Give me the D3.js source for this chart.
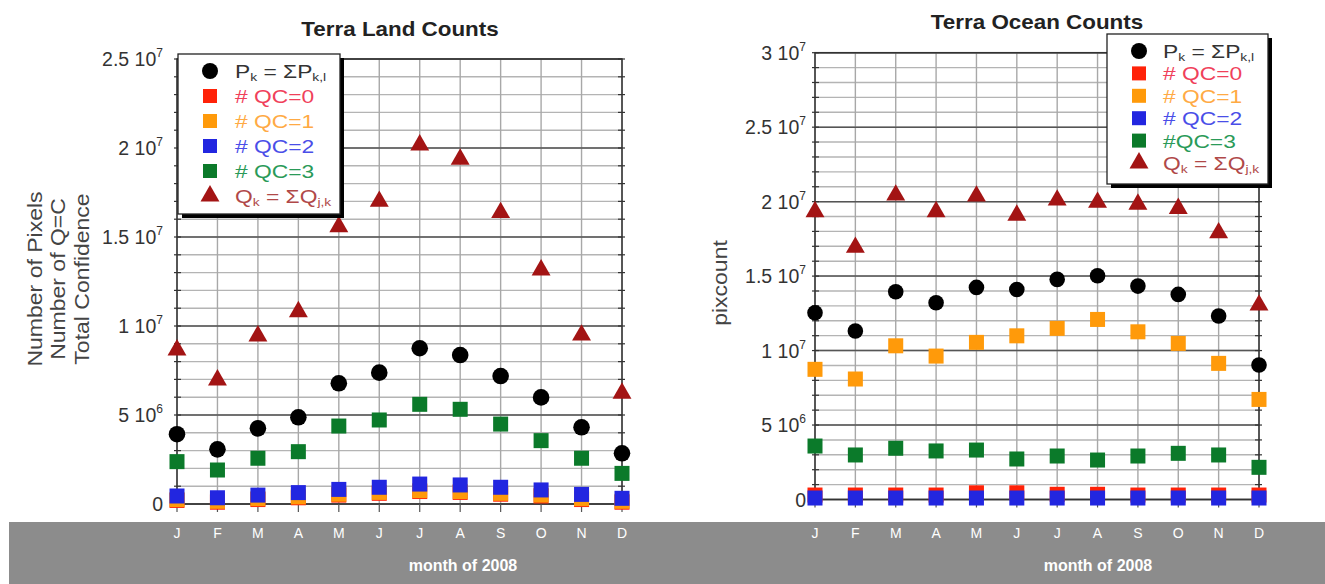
<!DOCTYPE html>
<html><head><meta charset="utf-8">
<script src="https://cdn.jsdelivr.net/npm/d3@7"></script>
<style>
html,body{margin:0;padding:0;background:#fff;}
svg{display:block;font-family:"Liberation Sans",Arial,Helvetica,sans-serif;}
</style></head>
<body><svg id="c" width="1325" height="584"></svg>
<script>
// ---------- data (pixel counts, millions) ----------
const months = [1,2,3,4,5,6,7,8,9,10,11,12];
const monthLetters = ["J","F","M","A","M","J","J","A","S","O","N","D"];

const landP   = [3.92,3.07,4.25,4.87,6.78,7.38,8.75,8.37,7.19,5.99,4.31,2.85];
const landQC0 = [0.20,0.10,0.25,0.35,0.50,0.60,0.70,0.65,0.55,0.45,0.25,0.10];
const landQC1 = [0.25,0.15,0.30,0.40,0.55,0.65,0.75,0.70,0.60,0.50,0.30,0.15];
const landQC2 = [0.45,0.35,0.50,0.64,0.82,0.94,1.12,1.07,0.94,0.79,0.54,0.32];
const landQC3 = [2.38,1.91,2.57,2.94,4.38,4.72,5.60,5.32,4.49,3.56,2.57,1.72];
const landQ   = [8.65,6.97,9.44,10.8,15.58,17.0,20.17,19.37,16.37,13.15,9.49,6.22];

const oceanP   = [12.54,11.31,13.95,13.21,14.24,14.10,14.78,15.02,14.33,13.77,12.32,9.03];
const oceanQC0 = [0.30,0.30,0.30,0.30,0.45,0.45,0.35,0.35,0.30,0.30,0.30,0.30];
const oceanQC1 = [8.74,8.09,10.32,9.63,10.55,10.99,11.49,12.09,11.26,10.48,9.14,6.72];
const oceanQC2 = [0.10,0.10,0.10,0.10,0.10,0.10,0.10,0.10,0.10,0.10,0.10,0.10];
const oceanQC3 = [3.59,2.99,3.44,3.26,3.32,2.72,2.92,2.65,2.92,3.10,2.99,2.16];
const oceanQ   = [19.32,16.93,20.44,19.32,20.37,19.09,20.10,19.95,19.83,19.54,17.90,13.05];

const landTicks  = [0,5e6,1e7,1.5e7,2e7,2.5e7];
const oceanTicks = [0,5e6,1e7,1.5e7,2e7,2.5e7,3e7];
const tickLabels = {0:["0",""],5000000:["5 10","6"],10000000:["1 10","7"],15000000:["1.5 10","7"],
  20000000:["2 10","7"],25000000:["2.5 10","7"],30000000:["3 10","7"]};

const seriesColors = {P:"#000000",QC0:"#ff2208",QC1:"#ff9a0a",QC2:"#2226e0",QC3:"#0b7a2a",Q:"#a31414"};
const textColors   = {P:"#333333",QC0:"#f0405a",QC1:"#ffaa44",QC2:"#4a4ee8",QC3:"#2a9a58",Q:"#b04848"};

const svg = d3.select("#c");

function drawPanel(cfg){
  const g = svg.append("g");
  const x = d3.scaleLinear().domain([1,12]).range([cfg.x0,cfg.x1]);
  const y = d3.scaleLinear().domain([0,cfg.ymax]).range([cfg.y0,cfg.y1]);

  const minor = d3.range(0,cfg.ymax+1,1e6);
  g.selectAll(".mh").data(minor).enter().append("line")
    .attr("x1",cfg.x0).attr("x2",cfg.x1).attr("y1",d=>y(d)).attr("y2",d=>y(d))
    .attr("stroke","#b4b4b4").attr("stroke-width",1.4);
  g.selectAll(".vg").data(months).enter().append("line")
    .attr("x1",d=>x(d)).attr("x2",d=>x(d)).attr("y1",cfg.y1).attr("y2",cfg.y0)
    .attr("stroke","#a8a8a8").attr("stroke-width",1.4);
  g.selectAll(".mj").data(cfg.ticks).enter().append("line")
    .attr("x1",cfg.x0).attr("x2",cfg.x1).attr("y1",d=>y(d)).attr("y2",d=>y(d))
    .attr("stroke","#555").attr("stroke-width",1.5);
  g.append("rect").attr("x",cfg.x0).attr("y",cfg.y1).attr("width",cfg.x1-cfg.x0).attr("height",cfg.y0-cfg.y1)
    .attr("fill","none").attr("stroke","#333").attr("stroke-width",1.5);
  g.selectAll(".tk").data(minor).enter().append("line")
    .attr("x1",cfg.x0-3).attr("x2",cfg.x0+4).attr("y1",d=>y(d)).attr("y2",d=>y(d))
    .attr("stroke","#333").attr("stroke-width",1.2);
  g.selectAll(".tk2").data(minor).enter().append("line")
    .attr("x1",cfg.x1-4).attr("x2",cfg.x1+3).attr("y1",d=>y(d)).attr("y2",d=>y(d))
    .attr("stroke","#333").attr("stroke-width",1.2);
  g.selectAll(".xt").data(months).enter().append("line")
    .attr("x1",d=>x(d)).attr("x2",d=>x(d)).attr("y1",cfg.y0).attr("y2",cfg.y0+8)
    .attr("stroke","#555").attr("stroke-width",1.2);

  const tl = g.selectAll(".tl").data(cfg.ticks).enter().append("text")
    .attr("x",cfg.labelX).attr("y",d=>y(d)+7).attr("text-anchor","end")
    .attr("font-size",19.5).attr("fill","#333");
  tl.append("tspan").text(d=>tickLabels[d][0]);
  tl.append("tspan").attr("font-size",12).attr("dy",-9).text(d=>tickLabels[d][1]);

  g.append("text").attr("transform",`translate(${cfg.titleX},${cfg.titleY}) scale(1.12,1)`)
    .attr("text-anchor","middle")
    .attr("font-size",20).attr("font-weight","bold").attr("fill","#222").text(cfg.title);

  const yl = g.append("text").attr("transform",`translate(${cfg.ylabX},${cfg.ylabY}) rotate(-90) scale(1.15,1)`)
    .attr("text-anchor","middle").attr("font-size",20).attr("fill","#444");
  cfg.ylabel.forEach((s,i)=>yl.append("tspan").attr("x",0).attr("dy",i===0?0:23.5).text(s));

  const sq = 15;
  const sqSeries = [["QC0",cfg.d.QC0],["QC1",cfg.d.QC1],["QC2",cfg.d.QC2],["QC3",cfg.d.QC3]];
  sqSeries.forEach(([k,arr])=>{
    g.selectAll(".s"+k).data(arr).enter().append("rect")
      .attr("x",(d,i)=>x(months[i])-sq/2).attr("y",d=>y(d*1e6)-sq/2)
      .attr("width",sq).attr("height",sq).attr("fill",seriesColors[k]);
  });
  g.selectAll(".cP").data(cfg.d.P).enter().append("circle")
    .attr("cx",(d,i)=>x(months[i])).attr("cy",d=>y(d*1e6)).attr("r",cfg.r).attr("fill","#000");
  const tri = d3.symbol().type(d3.symbolTriangle).size(155);
  g.selectAll(".tQ").data(cfg.d.Q).enter().append("path")
    .attr("d",tri).attr("transform",(d,i)=>`translate(${x(months[i])},${y(d*1e6)})`)
    .attr("fill",seriesColors.Q);

  const L = cfg.legend;
  g.append("rect").attr("x",L.x+4).attr("y",L.y+4).attr("width",L.w).attr("height",L.h).attr("fill","#000");
  g.append("rect").attr("x",L.x).attr("y",L.y).attr("width",L.w).attr("height",L.h)
    .attr("fill","#fff").attr("stroke","#222").attr("stroke-width",1.3);
  const items = [
    {k:"P",sym:"circle",parts:[["P",0],["k",1],[" = ΣP",0],["k,l",1]]},
    {k:"QC0",sym:"square",parts:[["# QC=0",0]]},
    {k:"QC1",sym:"square",parts:[["# QC=1",0]]},
    {k:"QC2",sym:"square",parts:[["# QC=2",0]]},
    {k:"QC3",sym:"square",parts:[[L.qc3,0]]},
    {k:"Q",sym:"tri",parts:[["Q",0],["k",1],[" = ΣQ",0],["j,k",1]]}
  ];
  items.forEach((it,i)=>{
    const cy = L.y + L.first + i*L.step;
    const sx = L.x + L.symX;
    if(it.sym==="circle") g.append("circle").attr("cx",sx).attr("cy",cy).attr("r",8).attr("fill","#000");
    else if(it.sym==="square") g.append("rect").attr("x",sx-7).attr("y",cy-7).attr("width",14).attr("height",14).attr("fill",seriesColors[it.k]);
    else g.append("path").attr("d",tri).attr("transform",`translate(${sx},${cy})`).attr("fill",seriesColors.Q);
    const t = g.append("text").attr("transform",`translate(${L.x+L.textX},${cy+7}) scale(1.2,1)`)
      .attr("font-size",19).attr("fill",textColors[it.k]);
    let sub=false;
    it.parts.forEach(([s,isSub])=>{
      const ts = t.append("tspan").text(s);
      if(isSub){ ts.attr("font-size",11.5).attr("dy",sub?0:3); sub=true; }
      else if(sub){ ts.attr("dy",-3); sub=false; }
    });
  });

  svg.selectAll(null).data(months).enter().append("text")
    .attr("x",d=>x(d)).attr("y",538).attr("text-anchor","middle")
    .attr("font-size",14).attr("fill","#fff").text((d,i)=>monthLetters[i]);
  svg.append("text").attr("x",cfg.capX).attr("y",571).attr("text-anchor","middle")
    .attr("font-size",16).attr("font-weight","bold").attr("fill","#fff").text("month of 2008");
}

svg.append("rect").attr("x",9).attr("y",522).attr("width",1316).attr("height",62).attr("fill","#8c8c8c");

drawPanel({
  x0:177,x1:622,y0:504,y1:59,ymax:2.5e7,ticks:landTicks,labelX:163,r:8.3,
  title:"Terra Land Counts",titleX:400,titleY:36,capX:463,
  ylabel:["Number of Pixels","Number of Q=C","Total Confidence"],ylabX:42,ylabY:279,
  d:{P:landP,QC0:landQC0,QC1:landQC1,QC2:landQC2,QC3:landQC3,Q:landQ},
  legend:{x:178,y:54,w:162,h:160,first:17,step:25,symX:32,textX:57,qc3:"# QC=3"}
});
drawPanel({
  x0:815,x1:1259,y0:499.5,y1:52.7,ymax:3e7,ticks:oceanTicks,labelX:806,r:7.8,
  title:"Terra Ocean Counts",titleX:1037,titleY:29,capX:1098,
  ylabel:["pixcount"],ylabX:727,ylabY:283,
  d:{P:oceanP,QC0:oceanQC0,QC1:oceanQC1,QC2:oceanQC2,QC3:oceanQC3,Q:oceanQ},
  legend:{x:1107,y:34,w:161,h:150,first:17,step:22.4,symX:32,textX:56,qc3:"#QC=3"}
});
</script></body></html>
